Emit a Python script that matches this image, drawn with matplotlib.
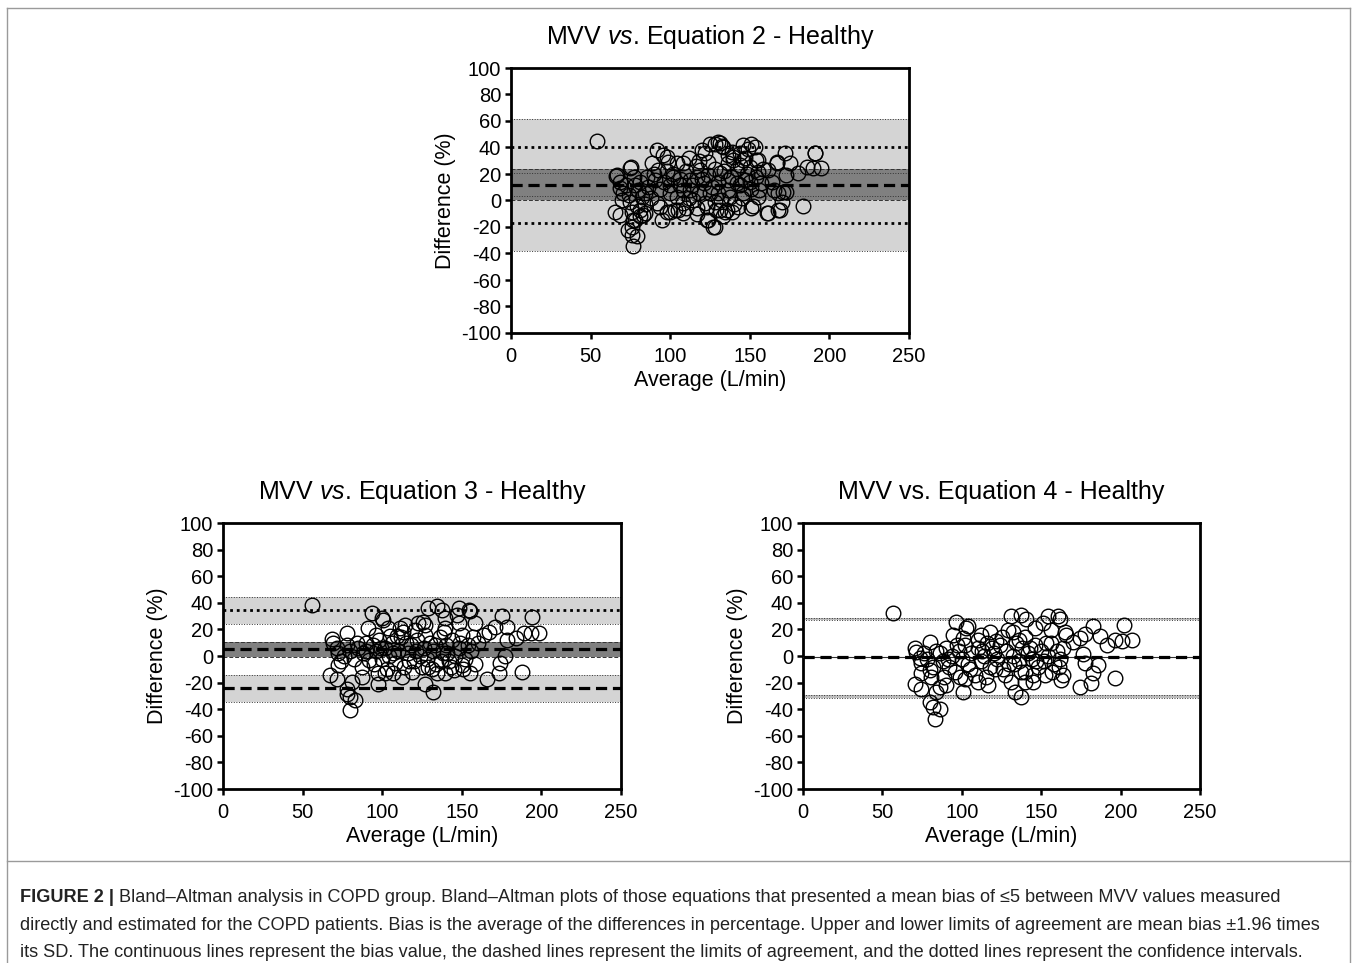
import matplotlib
matplotlib.use("Agg")
import matplotlib.pyplot as plt
from matplotlib.lines import Line2D

plt.rcParams['font.family'] = ['Liberation Sans', 'DejaVu Sans']
plt.rcParams['axes.unicode_minus'] = False
plt.rcParams['mathtext.fontset'] = 'custom'
plt.rcParams['mathtext.rm'] = 'Liberation Sans'
plt.rcParams['mathtext.it'] = 'Liberation Sans:italic'

# ---- panel 1 : MVV vs. Equation 2 ----
p1_pts = [
    (53.8, 45.2), (66, 18.7), (65.3, -8.4), (68.5, -11), (75.2, 25), (73.7, -22), (75.8, -26),
    (79, -26.5), (76.4, -34.3), (77.9, -14.7), (81, -12), (84, -9.7), (70.6, 5.4), (68.5, 9.2),
    (88.4, 28), (91.5, 38), (95.7, 34.3), (97.8, 33), (93.6, -4.6), (94.6, -14.7), (97.8, -8.4),
    (103, -7.2), (108, -9.7), (125, 43), (130, 44.4), (132.3, 41), (123, -14.7), (127, -19.7),
    (129, -7.2), (134.4, -8.4), (139.6, 33), (146, 42), (151, 42.6), (153, 40), (146, 30.6),
    (155, 30.6), (161.6, -9.7), (169, -7.2), (183.6, -4.2), (172, 35.6), (175, 28), (191, 36),
    (185.7, 25), (190, 24.3), (195, 24.3), (180.5, 20.4), (173, 19), (167, 28), (171, 6.7),
    (98.8, 29.3), (74.7, 24.3), (66.4, 19.2), (68.5, 14), (69.5, 0.4), (74.7, -0.9), (75.8, -8.4),
    (81, -7.2), (83, -11), (76.8, -14.7), (75.8, -19.7), (81, 14), (85.2, 18), (84.2, 5.4),
    (99.8, -8.4), (105, -7.2), (92.5, 23), (90.5, 15.4), (93.6, 9), (104, 28), (108, 28),
    (111.6, 32), (101.8, 18), (106, 11.7), (99.8, 5.4), (112.5, 8), (116.7, 18), (118.8, 23),
    (112.5, 15.4), (121.9, 35.6), (128, 43), (124, 29.3), (121, 13), (125, 5.4), (128, -0.9),
    (123, -4.7), (124, -14.7), (108, -2.2), (114.6, 0.4), (116.7, -6), (131.3, 43.2), (133.4, 40.7),
    (149, 39), (138.6, 36.8), (143.8, 35.6), (136.5, 28), (139.6, 30.6), (146.9, 31.8),
    (154.2, 30.6), (150, 25.5), (155.3, 21.8), (191, 35.6), (166.8, 29.3), (161.6, 23),
    (131.3, 20.4), (136.5, 15.4), (141.7, 13), (146.9, 15.4), (151, 9), (157, 13), (163.8, 14),
    (164.9, 7.9), (130, 5.4), (137.5, 2.8), (144.8, 1.6), (155.3, 2.8), (167.8, 5.4), (173, 6.7),
    (170, -0.9), (131.3, -7.2), (135.5, -7.2), (142.8, -4.7), (151, -6), (160.6, -9.7),
    (167.8, -7.2), (128.3, -19.7), (100, 12), (102, 20), (104, 3), (106, 16), (108, 8), (110, 22),
    (112, 2), (114, 12), (116, 26), (118, 6), (120, 16), (122, -2), (124, 19), (126, 10), (128, 24),
    (130, 14), (132, 0), (134, 22), (136, 8), (138, 18), (140, -3), (142, 24), (144, 12), (146, 6),
    (148, 20), (150, 14), (152, -4), (154, 18), (156, 8), (158, 24), (110, -6), (117, -10),
    (133, -12), (139, -9), (86, 10), (88, 2), (90, 20), (92, -2), (96, 14), (98, 22), (80, 8),
    (78, 12), (82, 3), (84, -3), (72, 12), (74, 4), (77, 18), (79, -4), (118, 30), (136, 34),
    (144, 27), (120, 38),
]
p1_bias, p1_bias_ci = 11.7, (0.0, 23.8)
p1_upper, p1_upper_ci = 40.6, (20.5, 61.5)
p1_lower, p1_lower_ci = -17.2, (-38.0, 3.4)

# ---- panel 2 : MVV vs. Equation 3 ----
p2_pts = [
    (55.7, 38.6), (68.3, 12.6), (69.3, 9.6), (71.4, 5.8), (72.5, 2), (72.5, -6.8), (67.2, -14.4),
    (71.4, -17), (77.7, 17.6), (77.7, -28.3), (79.8, -30.8), (82.9, -33.3), (79.8, -40.9),
    (77.7, -24.5), (80.8, -19.4), (87, -15.6), (91.2, 20.9), (93.4, 32.3), (99.6, 28.5),
    (100.7, 27.3), (97.6, -13.1), (97.6, -20.7), (101.8, -13.1), (107, -13.1), (112.3, -15.6),
    (103.9, 20.9), (111.2, 20.9), (114.3, 23.4), (109.1, 15.2), (122.5, 24.7), (125.6, 25.9),
    (126.6, 23.4), (120.4, 19.6), (129, 36.1), (134.2, 37.4), (137.4, 34.8), (126.9, -20.7),
    (132.1, -27.1), (128.9, -8.1), (134.2, -13.1), (139.4, -13.1), (139.6, 28.5), (147, 31),
    (148, 36.1), (154.3, 34.8), (155.3, 33.6), (139.6, 20.9), (148, 24.7), (158.4, 24.7),
    (163.7, 15.9), (144.9, -10.6), (150.2, -6.8), (155.4, -13.1), (165.8, -17), (173.1, -13.1),
    (174.2, -5.5), (177.3, 0), (175.2, 29.8), (178.4, 22.1), (171.1, 22.1), (166.9, 18.3),
    (183.9, 13.3), (178.4, 12), (189.2, 17.6), (193.3, 17.1), (198.6, 17.1), (194.4, 29),
    (188.1, -11.8), (85, 6), (88, 2), (90, 10), (92, -3), (94, 8), (96, 4), (98, 12), (100, -2),
    (102, 6), (104, 0), (106, 10), (108, -5), (110, 4), (112, 14), (114, -8), (116, 2), (118, 8),
    (120, -4), (122, 12), (124, 0), (126, 6), (128, -2), (130, 10), (132, 4), (134, -6), (136, 14),
    (138, 2), (140, 8), (142, -4), (144, 12), (146, 0), (148, 6), (150, 16), (152, -2), (154, 8),
    (156, 4), (158, -6), (160, 10), (80, 4), (82, -2), (84, 10), (76, 0), (74, -4), (78, 8),
    (87, -8), (95, -6), (103, -10), (119, -12), (131, -10), (143, -8), (151, -10), (113, 18),
    (127, 16), (139, 18), (96, 16), (105, 15), (90, 4), (99, 6), (107, 2), (115, 10), (121, 4),
    (133, 8), (141, 2), (149, 10), (157, 14), (117, -4), (125, -8), (137, -4),
]
p2_bias, p2_bias_ci = 5.1, (-1.0, 10.8)
p2_upper, p2_upper_ci = 34.3, (24.0, 44.2)
p2_lower, p2_lower_ci = -24.2, (-34.3, -14.2)

# ---- panel 3 : MVV vs. Equation 4 ----
p3_pts = [
    (56.7, 32.3), (70.4, 6.3), (71.4, 3.3), (73.5, -1.8), (74.6, -5.5), (74.1, -13.1), (70.4, -20.7),
    (74.1, -24.5), (79.8, 10.6), (79.8, -10.6), (80.8, -15.6), (79.8, -34.6), (81.9, -38.4),
    (86, -39.6), (82.9, -47.2), (84, -26.9), (86, -23.2), (90.2, -21.9), (96.5, 25.2), (102.7, 20.9),
    (103.8, 22.7), (94.4, 15.9), (100.7, 13.3), (101.8, -17), (100.7, -27.1), (110.2, -19.4),
    (116.5, -21.9), (112.3, 15.9), (117.5, 18.3), (121.7, 11.2), (131.1, 29.8), (137.4, 31),
    (140.5, 27.8), (129, 19.6), (132.1, 18.3), (136.3, 12), (131.1, -19.4), (133.2, -27.1),
    (137.4, -30.8), (139.5, -19.4), (144.7, -19.4), (145.8, 20.9), (151, 24.7), (154.2, 29.8),
    (160.5, 29.8), (161.6, 27.8), (156.3, 19.6), (164.7, 18.3), (165.8, 15.9), (152.2, -14.4),
    (162.6, -18.1), (163.7, -14.4), (170, 10.6), (174.2, 13.3), (177.3, 16.9), (182.6, 22.7),
    (186.8, 15.4), (176.2, 1.8), (177.3, -5.5), (185.7, -6.8), (182.6, -13.1), (181.5, -20.1),
    (174.2, -23.2), (191.5, 8.1), (196.7, 12.4), (200.8, 11.2), (207.1, 12), (201.9, 23.6),
    (196.7, -16.8), (86, 2), (88, -4), (90, 6), (92, -8), (94, 0), (96, -12), (98, 4), (100, -2),
    (102, 8), (104, -6), (106, 2), (108, -14), (110, 6), (112, -4), (114, 0), (116, 10), (118, -8),
    (120, 2), (122, -2), (124, 8), (126, -10), (128, 4), (130, -6), (132, 0), (134, 10), (136, -4),
    (138, 6), (140, -12), (142, 2), (144, -2), (146, 8), (148, -8), (150, 4), (152, -4), (154, 0),
    (156, 10), (158, -6), (160, 4), (162, -2), (164, 6), (82, -8), (84, 4), (78, -2), (76, 2),
    (89, -16), (99, -16), (115, -16), (127, -14), (137, -12), (145, -14), (157, -12), (110, 12),
    (125, 14), (140, 14), (97, 8), (91, -2), (105, -10), (113, 4), (121, -10), (133, -6),
    (143, 6), (153, 10), (161, -8), (119, 6), (147, -4),
]
p3_bias = -1.0
p3_upper = 27.8
p3_lower = -30.3

caption_bold = "FIGURE 2 | "
caption_lines = [
    "Bland\u2013Altman analysis in COPD group. Bland\u2013Altman plots of those equations that presented a mean bias of \u22645 between MVV values measured",
    "directly and estimated for the COPD patients. Bias is the average of the differences in percentage. Upper and lower limits of agreement are mean bias \u00b11.96 times",
    "its SD. The continuous lines represent the bias value, the dashed lines represent the limits of agreement, and the dotted lines represent the confidence intervals.",
]

LIGHT = '#d4d4d4'
DARK = '#808080'
W, H = 1357, 963


def axes_px(fig, left, top, right, bottom):
    return fig.add_axes([left / W, 1 - bottom / H, (right - left) / W, (bottom - top) / H])


def style_axes(ax, title_parts):
    ax.set_xlim(0, 250)
    ax.set_ylim(-100, 100)
    ax.set_xticks(range(0, 251, 50))
    ax.set_yticks(range(-100, 101, 20))
    for s in ax.spines.values():
        s.set_linewidth(2)
    ax.tick_params(direction='out', length=4, width=1.8, labelsize=14.5)
    ax.tick_params(axis='x', pad=6)
    ax.tick_params(axis='y', pad=3)
    ax.set_xlabel("Average (L/min)", fontsize=15.5, labelpad=3)
    ax.set_ylabel("Difference (%)", fontsize=15.5, labelpad=4)
    ax.set_title(title_parts, fontsize=18, pad=17)


def band(ax, lo, hi, color, edge_ls):
    ax.axhspan(lo, hi, color=color, lw=0, zorder=1)
    for v in (lo, hi):
        ax.axhline(v, color='#333333', lw=0.7, ls=edge_ls, zorder=2)


def scatter(ax, pts):
    xs = [p[0] for p in pts]
    ys = [p[1] for p in pts]
    ax.plot(xs, ys, 'o', ms=10.5, mfc='none', mec='black', mew=1.0, zorder=5)


fig = plt.figure(figsize=(W / 100, H / 100), dpi=100)

# panel 1
ax1 = axes_px(fig, 511, 68, 909, 333)
band(ax1, *p1_upper_ci, LIGHT, ':')
band(ax1, *p1_lower_ci, LIGHT, ':')
band(ax1, *p1_bias_ci, DARK, (0, (4, 2)))
ax1.axhline(p1_upper, color='black', lw=2, ls=(0, (1, 1.4)), zorder=3)
ax1.axhline(p1_lower, color='black', lw=2, ls=(0, (1, 1.4)), zorder=3)
ax1.axhline(p1_bias, color='black', lw=2.3, ls=(0, (3.5, 1.8)), zorder=3)
scatter(ax1, p1_pts)
style_axes(ax1, "MVV $\\mathit{vs}$. Equation 2 - Healthy")

# panel 2
ax2 = axes_px(fig, 223, 523, 621, 789)
band(ax2, *p2_upper_ci, LIGHT, ':')
band(ax2, *p2_lower_ci, LIGHT, ':')
band(ax2, *p2_bias_ci, DARK, (0, (4, 2)))
ax2.axhline(p2_upper, color='black', lw=2, ls=(0, (1, 1.4)), zorder=3)
ax2.axhline(p2_lower, color='black', lw=2.3, ls=(0, (3.5, 1.8)), zorder=3)
ax2.axhline(p2_bias, color='black', lw=2.3, ls=(0, (3.5, 1.8)), zorder=3)
scatter(ax2, p2_pts)
style_axes(ax2, "MVV $\\mathit{vs}$. Equation 3 - Healthy")

# panel 3
ax3 = axes_px(fig, 803, 523, 1200, 789)
for v in (p3_upper, p3_lower):
    band(ax3, v - 1.1, v + 1.1, '#bdbdbd', ':')
ax3.axhline(p3_bias, color='#333333', lw=0.8, zorder=3)
ax3.axhline(p3_bias, color='black', lw=2.3, ls=(0, (3.5, 1.8)), zorder=3)
scatter(ax3, p3_pts)
style_axes(ax3, "MVV vs. Equation 4 - Healthy")

# frame around figure and caption separator
fx = [7 / W, 1350 / W]
for x in fx:
    fig.add_artist(Line2D([x, x], [0, 1 - 8 / H], color='#9a9a9a', lw=1))
fig.add_artist(Line2D(fx, [1 - 8 / H] * 2, color='#9a9a9a', lw=1))
fig.add_artist(Line2D(fx, [1 - 861 / H] * 2, color='#9a9a9a', lw=1))

# caption, sized so that the first line ends near x=1287
renderer = fig.canvas.get_renderer()
cap_family = ['Liberation Sans Narrow', 'Liberation Sans', 'DejaVu Sans']
cap_x = 20 / W
line_y = [898, 925, 952]
base = 12.0
tb = fig.text(0, 0, caption_bold, fontsize=base, fontweight='bold', family=cap_family)
tr = fig.text(0, 0, caption_lines[0], fontsize=base, family=cap_family)
wid = tb.get_window_extent(renderer).width + tr.get_window_extent(renderer).width
tb.remove()
tr.remove()
size = base * (1287 - 20) / wid

t = fig.text(cap_x, 1 - line_y[0] / H, caption_bold, fontsize=size, fontweight='bold', va='center',
             color='#222222', family=cap_family)
bb = t.get_window_extent(renderer)
fig.text(bb.x1 / W, 1 - line_y[0] / H, caption_lines[0], fontsize=size, va='center', color='#222222',
         family=cap_family)
for ln, y in zip(caption_lines[1:], line_y[1:]):
    fig.text(cap_x, 1 - y / H, ln, fontsize=size, va='center', color='#222222', family=cap_family)

fig.savefig("out.png", dpi=100)
